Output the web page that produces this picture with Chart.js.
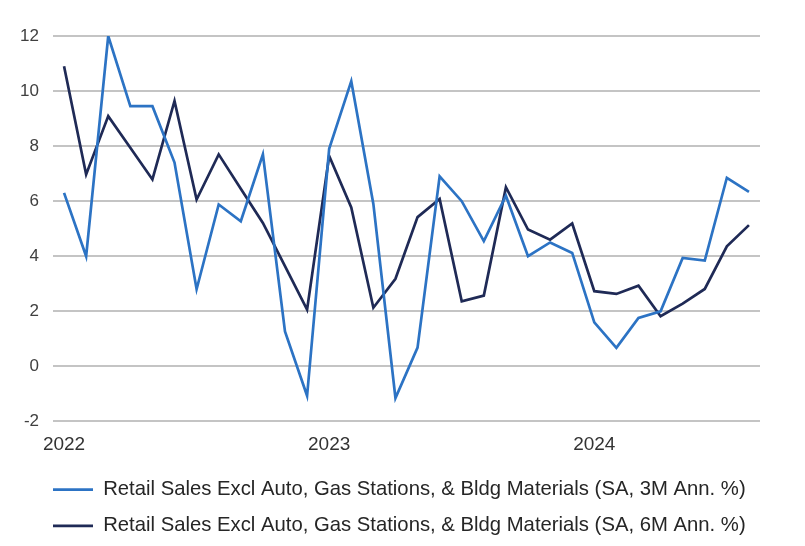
<!DOCTYPE html>
<html>
<head>
<meta charset="utf-8">
<script src="https://cdn.jsdelivr.net/npm/chart.js@4"></script>
<style>
  html, body { margin: 0; padding: 0; background: #fff; }
  #wrap { width: 805px; height: 546px; }
</style>
</head>
<body>
<div id="wrap"><canvas id="grafica_ventas"></canvas></div>
<script>
// Datos (mensual, ene 2022 - ago 2024)
const meses = [
  '2022-01','2022-02','2022-03','2022-04','2022-05','2022-06','2022-07','2022-08','2022-09','2022-10','2022-11','2022-12',
  '2023-01','2023-02','2023-03','2023-04','2023-05','2023-06','2023-07','2023-08','2023-09','2023-10','2023-11','2023-12',
  '2024-01','2024-02','2024-03','2024-04','2024-05','2024-06','2024-07','2024-08'
];

const ventas_3m = [6.3, 4.0, 12.0, 9.45, 9.45, 7.4, 2.8, 5.88, 5.27, 7.7, 1.27, -1.07,
  7.9, 10.36, 5.9, -1.15, 0.68, 6.9, 6.0, 4.55, 6.2, 4.0, 4.5, 4.12,
  1.6, 0.67, 1.76, 2.0, 3.94, 3.84, 6.85, 6.34];

const ventas_6m = [10.9, 6.97, 9.09, 7.94, 6.79, 9.64, 6.06, 7.7, 6.45, 5.21, 3.64, 2.06,
  7.64, 5.77, 2.13, 3.18, 5.42, 6.08, 2.36, 2.57, 6.51, 4.97, 4.6, 5.19,
  2.73, 2.63, 2.93, 1.82, 2.28, 2.81, 4.36, 5.13];

const etiquetas = [
  'Retail Sales Excl Auto, Gas Stations, & Bldg Materials (SA, 3M Ann. %)',
  'Retail Sales Excl Auto, Gas Stations, & Bldg Materials (SA, 6M Ann. %)'
];

const ticks_y = { min: -2, max: 12, step: 2 };

//La leyenda empieza alineada con el area de la grafica
const mover_leyenda = {
  id: 'mover_leyenda',
  afterLayout(chart) {
    if (chart.legend) chart.legend.left = 37;
  }
};

//Grafica de lineas
const grafica_ventas = document.getElementById('grafica_ventas');

const data_ventas = {
  labels: meses,
  datasets: [{
    label: etiquetas[0],
    data: ventas_3m,
    borderColor: '#2c73c4',
    backgroundColor: '#2c73c4',
    borderWidth: 2.7,
    pointRadius: 0,
    tension: 0
  }, {
    label: etiquetas[1],
    data: ventas_6m,
    borderColor: '#1f2a56',
    backgroundColor: '#1f2a56',
    borderWidth: 2.7,
    pointRadius: 0,
    tension: 0
  }]
};

new Chart(grafica_ventas, {
  type: 'line',
  data: data_ventas,
  plugins: [mover_leyenda],
  options: {
    responsive: true,
    maintainAspectRatio: false,
    animation: false,
    layout: { padding: { left: 0, right: 45, top: 36, bottom: 0 } },
    plugins: {
      tooltip: { enabled: false },
      legend: {
        position: 'bottom',
        align: 'start',
        labels: {
          usePointStyle: true,
          pointStyle: 'line',
          pointStyleWidth: 40,
          padding: 16,
          color: '#262626',
          font: { family: '"Liberation Sans", Arial, sans-serif', size: 20.3 }
        }
      }
    },
    scales: {
      x: {
        offset: true,
        grid: { display: false, drawTicks: false },
        border: { display: false },
        afterFit: scale => { scale.height = 42; },
        ticks: {
          autoSkip: false,
          maxRotation: 0,
          padding: 12,
          color: '#333333',
          font: { family: '"Liberation Sans", Arial, sans-serif', size: 19 },
          callback: function (value) {
            const m = meses[value];
            return m.endsWith('-01') ? m.slice(0, 4) : '';
          }
        }
      },
      y: {
        min: ticks_y.min,
        max: ticks_y.max,
        afterFit: scale => { scale.width = 53; },
        grid: { color: '#c4c4c4', lineWidth: 2, drawTicks: false },
        border: { display: false },
        ticks: {
          stepSize: ticks_y.step,
          padding: 14,
          color: '#404040',
          font: { family: '"Liberation Sans", Arial, sans-serif', size: 17 }
        }
      }
    }
  }
});
</script>
</body>
</html>
